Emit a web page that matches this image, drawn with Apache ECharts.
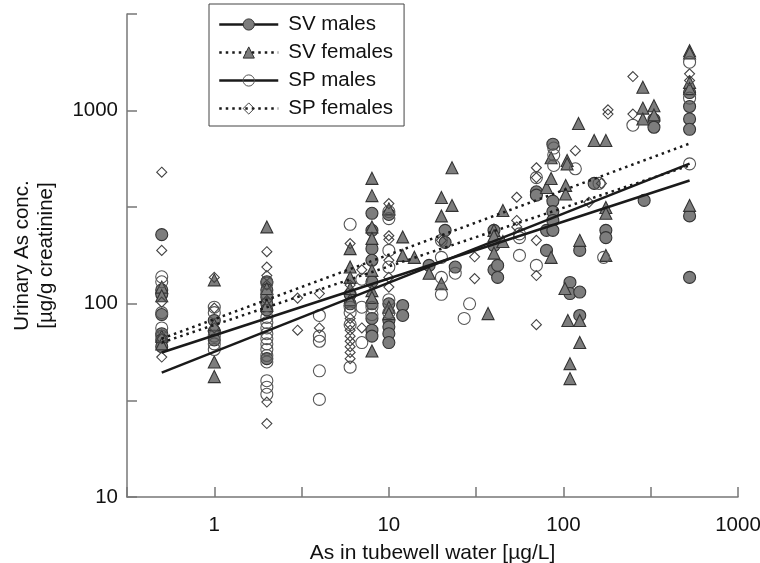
<!DOCTYPE html>
<html><head><meta charset="utf-8">
<script src="https://cdn.jsdelivr.net/npm/echarts@6/dist/echarts.min.js"></script>
<style>html,body{margin:0;padding:0;background:#fff}#chart{width:760px;height:563px}</style>
</head><body><div id="chart"></div>
<script>
// ---- data: [As in tubewell water (µg/L), urinary As (µg/g creatinine)] ----
const svMales = [
  [0.5,228],[0.5,118],[0.5,112],[0.5,88],[0.5,70],[0.5,65],[0.5,60],
  [1,82],[1,72],[1,65],
  [2,130],[2,118],[2,108],[2,100],[2,93],[2,52],
  [6,112],[6,100],
  [8,294],[8,240],[8,193],[8,168],[8,130],[8,100],[8,84],[8,73],[8,68],
  [10,290],[10,100],[10,82],[10,76],[10,70],[10,63],
  [12,98],[12,87],[17,158],[21,240],[21,208],[24,155],
  [40,240],[40,200],[40,150],[42,137],[42,158],
  [70,380],[70,365],[80,240],[80,189],
  [87,670],[87,340],[87,300],[87,270],[87,240],
  [109,129],[109,113],[124,189],[124,115],[124,87],
  [150,420],[175,240],[175,220],[290,343],[330,900],[330,820],
  [528,1240],[528,1050],[528,905],[528,800],[528,285],[528,137]
];
const svFemales = [
  [0.5,122],[0.5,110],[0.5,68],[0.5,62],
  [1,133],[1,78],[1,50],[1,42],
  [2,250],[2,120],[2,98],
  [6,193],[6,155],[6,137],[6,120],[6,105],
  [8,446],[8,363],[8,250],[8,218],[8,149],[8,117],[8,108],[8,57],
  [10,310],[10,96],[10,89],[12,222],[12,178],[14,174],[17,144],
  [20,355],[20,285],[20,127],[23,506],[23,323],[37,89],
  [40,240],[40,225],[40,183],[45,304],[45,210],
  [80,400],[85,570],[85,445],[85,174],[102,120],[103,410],[103,370],
  [105,552],[105,530],[106,82],[109,49],[109,41],
  [122,857],[124,213],[124,82],[124,63],[150,700],
  [175,700],[175,315],[175,294],[175,178],
  [285,1320],[285,1030],[285,905],[330,1060],[330,950],
  [528,2040],[528,1990],[528,1400],[528,1300],[528,323]
];
const spMales = [
  [0.5,138],[0.5,130],[0.5,90],[0.5,75],[0.5,68],
  [1,96],[1,90],[1,68],[1,62],[1,58],
  [2,128],[2,112],[2,85],[2,80],[2,75],[2,70],[2,66],[2,62],[2,58],[2,54],[2,50],[2,40],[2,37],[2,34],
  [4,87],[4,68],[4,64],[4,45],[4,32],
  [6,258],[6,96],[6,90],[6,78],[6,47],
  [7,134],[7,96],[7,63],[8,96],[8,88],
  [10,300],[10,276],[10,189],[10,155],[10,105],[10,90],
  [20,213],[20,174],[20,137],[20,112],[24,144],[27,84],[29,100],
  [56,230],[56,220],[56,178],[70,450],[70,158],
  [88,640],[88,590],[88,520],[117,500],[160,420],[170,174],[250,840],
  [528,1780],[528,1160],[528,530]
];
const spFemales = [
  [0.5,480],[0.5,189],[0.5,102],[0.5,66],[0.5,53],
  [1,137],[1,95],[1,75],
  [2,186],[2,155],[2,140],[2,125],[2,104],[2,31],[2,24],
  [3,107],[3,73],[4,113],[4,75],
  [6,205],[6,125],[6,84],[6,78],[6,73],[6,68],[6,64],[6,60],[6,56],[6,52],
  [7,150],[7,75],
  [10,330],[10,225],[10,215],[10,168],[10,137],[10,122],
  [20,213],[31,175],[31,135],[54,356],[54,270],[54,250],
  [70,506],[70,450],[70,213],[70,140],[70,78],
  [117,620],[140,335],[165,420],[180,1010],[180,960],[250,1500],[250,960],
  [528,1550],[528,1430]
];
// regression lines (end points)
const fitWater = [0.5, 528];
const fitSvMales = [56, 435];
const fitSvFemales = [66, 675];
const fitSpMales = [44, 532];
const fitSpFemales = [63, 520];
// axes (log10 exponents)
const xExtent = [-0.5, 3];
const yExtent = [1, 3.5];
const tickStep = 0.5;

const lg = v => Math.log10(v);
const toLog = arr => arr.map(p => [lg(p[0]), lg(p[1])]);
const fitLine = ys => fitWater.map((x, i) => [lg(x), lg(ys[i])]);
const decadeLabel = v => Math.abs(v - Math.round(v)) < 1e-9 ? String(Math.round(Math.pow(10, v))) : '';

const FONT = '"Liberation Sans", Arial, sans-serif';
const DOTS = [2.5, 4];
const groups = [
  {name:'SV males',   pts: svMales,   fit: fitSvMales,   symbol:'circle',   size:12, fill:'#7d7d7d', stroke:'#333', dash:'solid'},
  {name:'SV females', pts: svFemales, fit: fitSvFemales, symbol:'triangle', size:12, fill:'#7d7d7d', stroke:'#333', dash:DOTS},
  {name:'SP males',   pts: spMales,   fit: fitSpMales,   symbol:'circle',   size:12, fill:'rgba(255,255,255,0)', stroke:'#555', dash:'solid'},
  {name:'SP females', pts: spFemales, fit: fitSpFemales, symbol:'diamond',  size:10, fill:'rgba(255,255,255,0)', stroke:'#444', dash:DOTS}
];

const series = [];
groups.forEach(g => {
  series.push({
    type:'line', name:g.name, data: fitLine(g.fit), showSymbol:false,
    symbol:g.symbol, symbolSize:g.size,
    itemStyle:{color:g.fill, borderColor:g.stroke, borderWidth:1},
    lineStyle:{color:'#1a1a1a', width:2.5, type:g.dash},
    z:4, silent:true
  });
});
groups.forEach(g => {
  series.push({
    type:'scatter', name:g.name, data: toLog(g.pts),
    symbol:g.symbol, symbolSize:g.size,
    itemStyle:{color:g.fill, borderColor:g.stroke, borderWidth:1.1, opacity:1},
    z:2
  });
});

const chart = echarts.init(document.getElementById('chart'));
chart.setOption({
  animation:false,
  backgroundColor:'#fff',
  textStyle:{fontFamily:FONT},
  grid:{left:127, right:22, top:14, bottom:66, outerBoundsMode:'none', containLabel:false},
  legend:{
    orient:'vertical', left:209, top:4,
    padding:[10,11,7,9], itemGap:7, itemWidth:59, itemHeight:14,
    borderColor:'#444', borderWidth:1, backgroundColor:'#fff',
    textStyle:{fontSize:20.5, color:'#111', fontFamily:FONT, padding:[0,0,0,5]},
    selectedMode:false,
    data: groups.map(g => ({
      name:g.name,
      itemStyle:{color:g.fill, borderColor:g.stroke, borderWidth:1},
      lineStyle:{color:'#1a1a1a', width:2.5, type:g.dash}
    }))
  },
  xAxis:{
    type:'value', min:xExtent[0], max:xExtent[1], interval:tickStep,
    name:'As in tubewell water [µg/L]', nameLocation:'middle', nameGap:46,
    nameTextStyle:{fontSize:21, color:'#111', fontFamily:FONT},
    axisLine:{onZero:false, lineStyle:{color:'#777', width:1.5}},
    axisTick:{inside:true, length:10, lineStyle:{color:'#777', width:1.5}},
    axisLabel:{formatter:decadeLabel, fontSize:20.5, color:'#111', margin:18, fontFamily:FONT},
    splitLine:{show:false}
  },
  yAxis:{
    type:'value', min:yExtent[0], max:yExtent[1], interval:tickStep,
    name:'Urinary As conc.\n[µg/g creatinine]', nameLocation:'middle', nameGap:69,
    nameTextStyle:{fontSize:20.5, color:'#111', lineHeight:24, fontFamily:FONT},
    axisLine:{onZero:false, lineStyle:{color:'#777', width:1.5}},
    axisTick:{inside:true, length:10, lineStyle:{color:'#777', width:1.5}},
    axisLabel:{formatter:decadeLabel, fontSize:20.5, color:'#111', margin:9, fontFamily:FONT},
    splitLine:{show:false}
  },
  series: series
});
</script></body></html>
